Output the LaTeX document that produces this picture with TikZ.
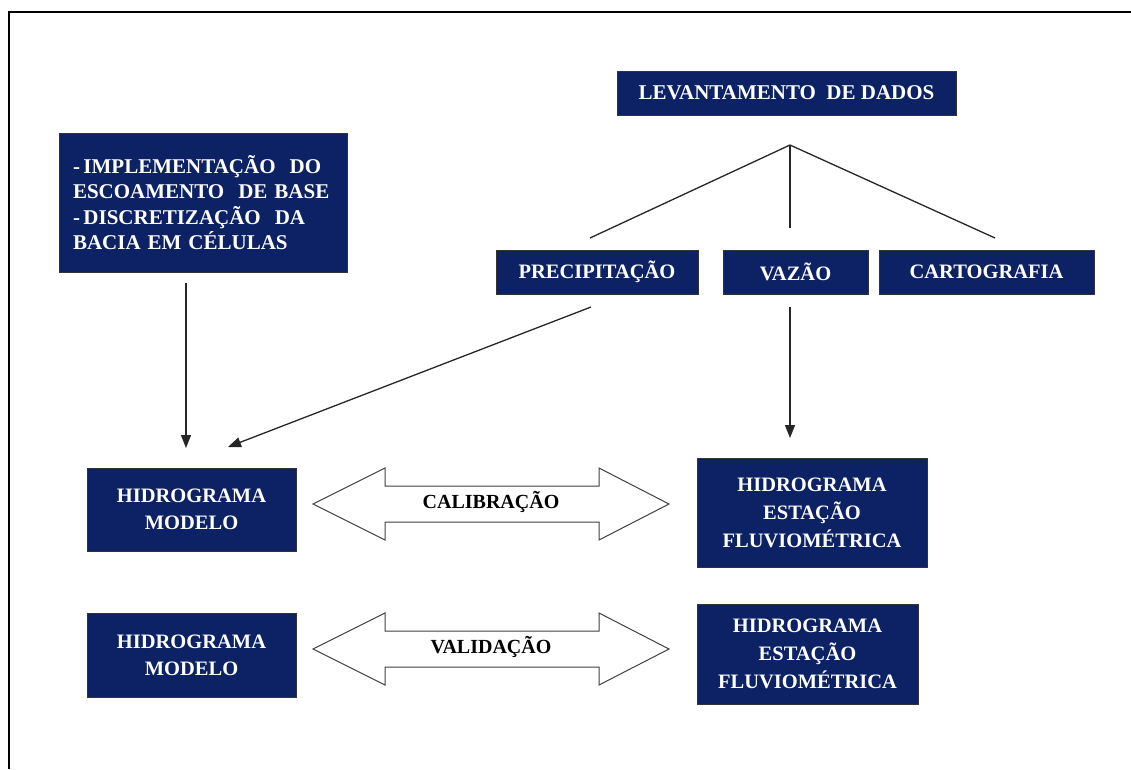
\documentclass[tikz,border=0pt]{standalone}
\usepackage{fontspec}
\setmainfont{Liberation Serif}
\usetikzlibrary{arrows.meta}
\definecolor{navy}{RGB}{12,34,100}
\tikzset{
  box/.style={fill=navy, draw=black!80, line width=0.5pt, inner sep=0pt,
    text=white, font=\fontsize{20.5}{27}\selectfont\bfseries, align=center},
  conn/.style={draw=black!85, line width=1.3pt},
  arr/.style={conn, -{Triangle[length=13pt,width=10pt]}},
  dbl/.style={draw=black!75, line width=1pt, fill=white},
  lbl/.style={font=\fontsize{20}{24}\selectfont\bfseries, text=black, inner sep=0pt}
}
\begin{document}
\begin{tikzpicture}[x=1pt,y=-1pt]
\useasboundingbox (0,0) rectangle (1131,769);
% frame
\draw[line width=2.4pt] (9,769) -- (9,12) -- (1131,12);

% boxes
\node[box, minimum width=339pt, minimum height=44pt, font=\fontsize{21}{25}\selectfont\bfseries] (lev) at (786.5,93) {LEVANTAMENTO\ \ DE DADOS};
\node[box, minimum width=288pt, minimum height=139pt, text width=260pt, inner xsep=14pt, align=left,
      font=\fontsize{21}{25.5}\selectfont\bfseries] (impl) at (203,202.5)
  {-\,IMPLEMENTAÇÃO\ \ DO\\ESCOAMENTO\ \ DE BASE\\-\,DISCRETIZAÇÃO\ \ DA\\BACIA EM CÉLULAS};
\node[box, minimum width=202pt, minimum height=44pt] (prec) at (597,272) {PRECIPITAÇÃO};
\node[box, minimum width=145pt, minimum height=44pt] (vaz) at (795.5,272) {VAZÃO};
\node[box, minimum width=215pt, minimum height=44pt] (carto) at (986.5,272) {CARTOGRAFIA};

\node[box, minimum width=209pt, minimum height=83pt] (hm1) at (191.5,509.5) {HIDROGRAMA\\MODELO};
\node[box, minimum width=209pt, minimum height=84pt] (hm2) at (191.5,655) {HIDROGRAMA\\MODELO};
\node[box, minimum width=230pt, minimum height=109pt, font=\fontsize{20.5}{28}\selectfont\bfseries] (he1) at (812,512.5) {HIDROGRAMA\\ESTAÇÃO\\FLUVIOMÉTRICA};
\node[box, minimum width=221pt, minimum height=100pt, font=\fontsize{20.5}{28}\selectfont\bfseries] (he2) at (807.5,654) {HIDROGRAMA\\ESTAÇÃO\\FLUVIOMÉTRICA};

% tree from levantamento
\coordinate (br) at (790,145);
\coordinate (bp) at (590,238);
\coordinate (bv) at (790,228);
\coordinate (bc) at (995,238);
\draw[conn] (bp) -- (br) -- (bc);
\draw[conn] (br) -- (bv);

% arrows to hidrograma
\coordinate (a1s) at (186,283);
\coordinate (a1e) at (186,448);
\coordinate (a2s) at (591,307);
\coordinate (a2e) at (228,447);
\coordinate (a3s) at (790,307);
\coordinate (a3e) at (790,438);
\draw[arr] (a1s) -- (a1e);
\draw[arr] (a2s) -- (a2e);
\draw[arr] (a3s) -- (a3e);

% double arrows
\coordinate (d1) at (313,504);
\draw[dbl] (d1) -- ++(72,-36) -- ++(0,18) -- ++(214,0) -- ++(0,-18) -- ++(70,36)
  -- ++(-70,36) -- ++(0,-18) -- ++(-214,0) -- ++(0,18) -- cycle;
\node[lbl] (cal) at (491,502) {CALIBRAÇÃO};

\coordinate (d2) at (313,649);
\draw[dbl] (d2) -- ++(72,-36) -- ++(0,18) -- ++(214,0) -- ++(0,-18) -- ++(70,36)
  -- ++(-70,36) -- ++(0,-18) -- ++(-214,0) -- ++(0,18) -- cycle;
\node[lbl] (val) at (491,647) {VALIDAÇÃO};
\end{tikzpicture}
\end{document}
